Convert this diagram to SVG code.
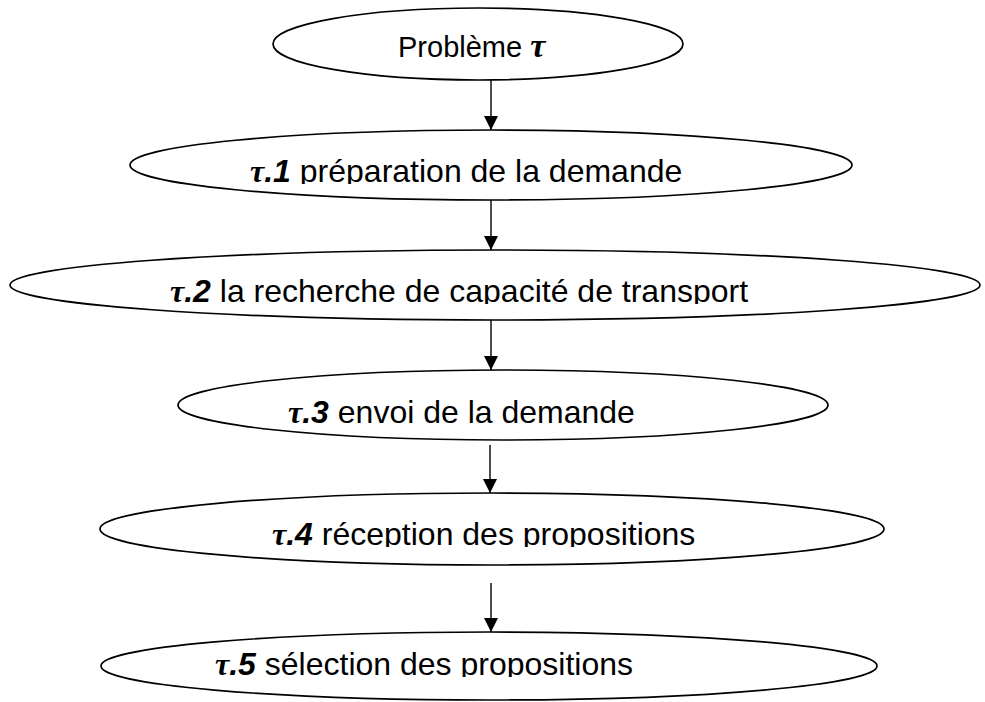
<svg xmlns="http://www.w3.org/2000/svg" width="985" height="702" viewBox="0 0 985 702">
<style>
.node ellipse{fill:#fff;stroke:#000;stroke-width:1.7}
.lbl{font-family:"Liberation Sans",Arial,sans-serif;font-size:32px;fill:#000}
.tau{font-family:"Liberation Serif","Times New Roman",serif;font-weight:bold;font-style:italic}
.num{font-weight:bold;font-style:italic}
.conn line{stroke:#000;stroke-width:1.4}
</style>
<defs>
<marker id="ah" markerWidth="14" markerHeight="14" refX="14" refY="7" orient="auto" markerUnits="userSpaceOnUse">
<path d="M0,0 L14,7 L0,14 Z" fill="#000"/>
</marker>
<clipPath id="c1"><rect x="0" y="0" width="985" height="184"/></clipPath>
<clipPath id="c2"><rect x="0" y="0" width="985" height="304"/></clipPath>
<clipPath id="c3"><rect x="0" y="0" width="985" height="425"/></clipPath>
<clipPath id="c4"><rect x="0" y="0" width="985" height="547"/></clipPath>
<clipPath id="c5"><rect x="0" y="0" width="985" height="677"/></clipPath>
</defs>
<g id="connectors" class="conn">
<line x1="491" y1="80" x2="491" y2="130" marker-end="url(#ah)"/>
<line x1="491" y1="200" x2="491" y2="250" marker-end="url(#ah)"/>
<line x1="491" y1="320" x2="491" y2="370" marker-end="url(#ah)"/>
<line x1="490" y1="445" x2="490" y2="493" marker-end="url(#ah)"/>
<line x1="491" y1="583" x2="491" y2="632" marker-end="url(#ah)"/>
</g>
<g id="n0" class="node">
<ellipse cx="478" cy="44" rx="205" ry="36"/>
<text class="lbl" x="398" y="57" style="font-size:29px">Problème <tspan class="tau" style="font-size:34px">τ</tspan></text>
</g>
<g id="n1" class="node">
<ellipse cx="491" cy="165" rx="361" ry="35"/>
<text class="lbl" x="250" y="182" clip-path="url(#c1)"><tspan class="tau">τ</tspan><tspan class="num">.1</tspan> préparation de la demande</text>
</g>
<g id="n2" class="node">
<ellipse cx="495" cy="285" rx="485" ry="35"/>
<text class="lbl" x="170" y="302" clip-path="url(#c2)"><tspan class="tau">τ</tspan><tspan class="num">.2</tspan> la recherche de capacité de transport</text>
</g>
<g id="n3" class="node">
<ellipse cx="503" cy="405" rx="325" ry="35"/>
<text class="lbl" x="288" y="423" clip-path="url(#c3)"><tspan class="tau">τ</tspan><tspan class="num">.3</tspan> envoi de la demande</text>
</g>
<g id="n4" class="node">
<ellipse cx="492" cy="529" rx="392" ry="36"/>
<text class="lbl" x="272" y="545" clip-path="url(#c4)"><tspan class="tau">τ</tspan><tspan class="num">.4</tspan> réception des propositions</text>
</g>
<g id="n5" class="node">
<ellipse cx="489" cy="666" rx="388" ry="34"/>
<text class="lbl" x="215" y="675" clip-path="url(#c5)"><tspan class="tau">τ</tspan><tspan class="num">.5</tspan> sélection des propositions</text>
</g>
</svg>
